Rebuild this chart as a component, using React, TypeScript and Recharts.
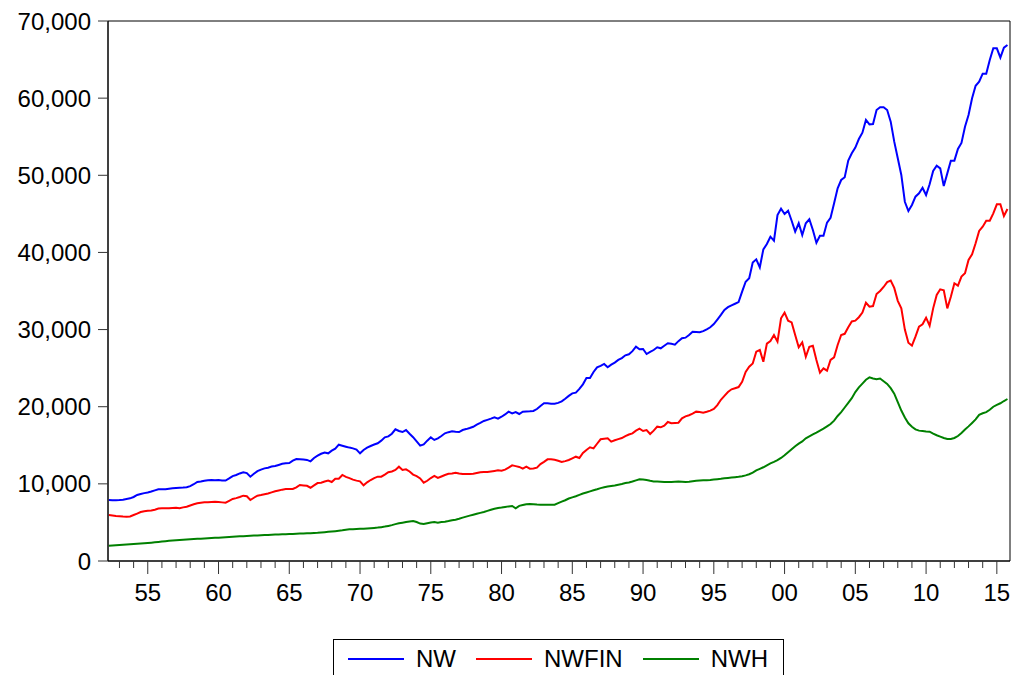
import React from "react";
import { LineChart, Line, XAxis, YAxis, ReferenceArea } from "recharts";

// quarterly, starting 1952Q2
const firstQuarter = 1952.25;

const nw = [
  7900, 7880, 7880,
  7900, 7950, 8050, 8120,
  8300, 8560, 8680, 8800,
  8870, 9000, 9150, 9290,
  9290, 9300, 9380, 9420,
  9470, 9500, 9520, 9560,
  9700, 9950, 10250, 10300,
  10400, 10480, 10500, 10480,
  10500, 10450, 10430, 10700,
  11000, 11150, 11350, 11500,
  11400, 10930, 11300, 11650,
  11850, 12010, 12100, 12250,
  12310, 12450, 12600, 12660,
  12700, 13000, 13220, 13200,
  13150, 13100, 12920, 13350,
  13650, 13900, 14050, 13960,
  14300, 14560, 15080, 14950,
  14820, 14700, 14600, 14450,
  13960, 14400, 14700, 14910,
  15100, 15260, 15600, 16030,
  16150, 16500, 17070, 16850,
  16720, 16980, 16500, 16050,
  15500, 14950, 15120, 15600,
  16030, 15690, 15900, 16200,
  16550, 16700, 16810, 16750,
  16720, 16980, 17100, 17240,
  17400, 17670, 17900, 18150,
  18300, 18450, 18620, 18450,
  18700, 19000, 19360, 19140,
  19310, 19060, 19360, 19380,
  19400, 19450, 19700, 20100,
  20440, 20440, 20400, 20400,
  20500, 20700, 21040, 21400,
  21730, 21820, 22300, 22900,
  23720, 23720, 24500, 25110,
  25300, 25540, 25110, 25450,
  25710, 26060, 26300, 26660,
  26800, 27200, 27780, 27440,
  27480, 26830, 27100, 27350,
  27700, 27570, 27900, 28220,
  28150, 28050, 28500, 28870,
  28950, 29300, 29730, 29700,
  29650, 29800, 30040, 30300,
  30720, 31300, 31900, 32540,
  32900, 33140, 33350, 33570,
  34910, 36200, 36650, 38700,
  39110, 38070, 40400, 41090,
  42040, 41520, 44850, 45670,
  44980, 45410, 44110, 42690,
  43780, 42260, 43780, 44300,
  42910, 41260, 42170, 42170,
  43870, 44500, 46370, 48310,
  49390, 49740, 51900, 52850,
  53600, 54700, 55520, 57170,
  56600, 56640, 58460, 58810,
  58810, 58460, 56950, 54360,
  52200, 50040, 46570, 45370,
  46150, 47230, 47660, 48390,
  47440, 48830, 50560, 51250,
  50900, 48610, 50250, 51900,
  51900, 53410, 54190, 56300,
  57820, 59980, 61610, 62130,
  63170, 63170, 64940, 66460,
  66460, 65250, 66540, 66890,
];

const nwfin = [
  5960, 5900, 5830,
  5800, 5760, 5740, 5780,
  5960, 6150, 6350, 6450,
  6500, 6540, 6650, 6800,
  6830, 6830, 6850, 6880,
  6910, 6830, 6950, 7040,
  7200, 7350, 7480, 7550,
  7600, 7620, 7650, 7690,
  7650, 7600, 7560, 7800,
  8050, 8150, 8300, 8470,
  8400, 7910, 8200, 8470,
  8550, 8650, 8750, 8900,
  9050, 9150, 9250, 9330,
  9330, 9330, 9550, 9850,
  9800, 9750, 9500, 9800,
  10100, 10150, 10300, 10420,
  10240, 10670, 10670, 11150,
  10900, 10750, 10550, 10420,
  10330, 9810, 10200, 10500,
  10750, 10930, 10930, 11200,
  11500, 11600, 11800, 12220,
  11800, 11880, 11600, 11200,
  11000, 10700, 10150, 10400,
  10750, 11020, 10760, 10950,
  11150, 11300, 11350, 11450,
  11350, 11280, 11280, 11280,
  11300, 11400, 11500, 11540,
  11540, 11600, 11670, 11750,
  11700, 11850, 12100, 12400,
  12300, 12190, 11970, 12220,
  11970, 12000, 12100, 12570,
  12850, 13180, 13180, 13120,
  13000, 12830, 12950, 13090,
  13300, 13520, 13350, 14000,
  14400, 14740, 14600, 15200,
  15780, 15850, 15900, 15470,
  15650, 15800, 15940, 16200,
  16400, 16550, 16900, 17150,
  16850, 16980, 16460, 16900,
  17410, 17330, 17550, 18020,
  17850, 17900, 17930, 18500,
  18750, 18900, 19100, 19360,
  19300, 19230, 19350, 19490,
  19700, 20200, 20900, 21400,
  21900, 22260, 22400, 22550,
  23240, 24500, 25190, 25600,
  27130, 27350, 25830, 28180,
  28520, 29300, 28430, 31460,
  32190, 31150, 30930, 29300,
  27700, 28350, 26480, 27780,
  27910, 26060, 24410, 24980,
  24670, 26060, 26400, 28000,
  29300, 29450, 30300, 31050,
  31150, 31600, 32200, 33480,
  32970, 33050, 34600, 35000,
  35520, 36150, 36360, 35400,
  33720, 32750, 30000, 28300,
  27910, 29080, 30370, 30680,
  31540, 30500, 32750, 34480,
  35220, 35100, 32750, 34260,
  36000, 35690, 36860, 37300,
  39020, 39760, 41180, 42780,
  43340, 44110, 44110, 45070,
  46240, 46240, 44720, 45630,
];

const nwh = [
  1990, 2010, 2040,
  2070, 2100, 2130, 2170,
  2200, 2230, 2270, 2300,
  2340, 2380, 2430, 2470,
  2520, 2570, 2610, 2650,
  2680, 2720, 2760, 2790,
  2810, 2840, 2870, 2900,
  2920, 2950, 2980, 3010,
  3030, 3060, 3090, 3120,
  3150, 3170, 3200, 3220,
  3240, 3260, 3290, 3310,
  3330, 3360, 3380, 3400,
  3420, 3440, 3460, 3480,
  3500, 3510, 3530, 3550,
  3570, 3590, 3610, 3640,
  3660, 3700, 3740, 3780,
  3830, 3870, 3920, 3980,
  4060, 4100, 4130, 4150,
  4170, 4190, 4220, 4250,
  4290, 4330, 4390, 4460,
  4550, 4650, 4780, 4880,
  4960, 5050, 5130, 5190,
  5050, 4850, 4800, 4900,
  5000, 5060, 4970, 5050,
  5100, 5180, 5280, 5360,
  5480, 5620, 5750, 5880,
  6000, 6120, 6240, 6350,
  6500, 6650, 6780, 6880,
  6930, 7000, 7080, 7130,
  6830, 7150, 7250, 7350,
  7390, 7360, 7320, 7300,
  7300, 7290, 7290, 7300,
  7500, 7700, 7880, 8100,
  8250, 8400, 8580, 8750,
  8880, 9020, 9170, 9300,
  9450, 9550, 9650, 9720,
  9780, 9880, 9980, 10100,
  10180, 10300, 10450, 10590,
  10570, 10500, 10400, 10320,
  10290, 10260, 10240, 10240,
  10250, 10270, 10290, 10270,
  10240, 10280, 10350, 10410,
  10430, 10460, 10480, 10500,
  10550, 10600, 10650, 10720,
  10770, 10820, 10870, 10910,
  10980, 11100, 11250, 11450,
  11750, 11950, 12150, 12400,
  12660, 12850, 13070, 13360,
  13700, 14100, 14500, 14880,
  15220, 15500, 15900, 16150,
  16400, 16640, 16900, 17150,
  17450, 17750, 18200, 18800,
  19300, 19900, 20500, 21100,
  21900, 22500, 23000, 23500,
  23810, 23650, 23550, 23650,
  23300, 22950, 22400, 21700,
  20600, 19500, 18600, 17850,
  17400, 17070, 16900, 16850,
  16800, 16770, 16500, 16300,
  16120, 15950, 15810, 15810,
  15950, 16200, 16600, 17050,
  17450, 17900, 18350, 18950,
  19150, 19300, 19600, 20000,
  20250, 20450, 20740, 21000,
];

const seriesNames = ["NW", "NWFIN", "NWH"];
const seriesColors = ["#0000ff", "#ff0000", "#008000"];

const yearTicks = Array.from({ length: 63 }, (_, i) => 1953 + i);
const labelYears = [1955, 1960, 1965, 1970, 1975, 1980, 1985, 1990, 1995, 2000, 2005, 2010, 2015];
const labelTexts = ["55", "60", "65", "70", "75", "80", "85", "90", "95", "00", "05", "10", "15"];
const yTicks = [0, 10000, 20000, 30000, 40000, 50000, 60000, 70000];

const data = nw.map((v, i) => ({
  t: firstQuarter + i * 0.25,
  NW: v,
  NWFIN: nwfin[i],
  NWH: nwh[i],
}));

const FONT = "'Liberation Sans', Arial, Helvetica, sans-serif";
const X_MIN = 1952.19;
const X_MAX = 2015.93;

function YearTick(props: any) {
  const { x, y, payload } = props;
  const idx = labelYears.indexOf(payload.value);
  const major = idx >= 0;
  return (
    <g>
      <line x1={x} x2={x} y1={y} y2={y + (major ? 13 : 7)} stroke="#333" strokeWidth={1} />
      {major && (
        <text x={x} y={y + 40} textAnchor="middle" fontSize={24} fill="#000" fontFamily={FONT}>
          {labelTexts[idx]}
        </text>
      )}
    </g>
  );
}

function LegendBox() {
  return (
    <div
      style={{
        position: "absolute",
        left: 333,
        top: 639,
        width: 451,
        height: 44,
        border: "1px solid #000",
        background: "#fff",
        display: "flex",
        alignItems: "center",
        paddingLeft: 14,
        paddingBottom: 4,
        boxSizing: "border-box",
        fontFamily: FONT,
        fontSize: 24,
      }}
    >
      {seriesNames.map((name, i) => (
        <div key={name} style={{ display: "flex", alignItems: "center", marginRight: 20 }}>
          <svg width={56} height={4}>
            <line x1={0} x2={56} y1={2} y2={2} stroke={seriesColors[i]} strokeWidth={2} />
          </svg>
          <span style={{ marginLeft: 12, lineHeight: "28px" }}>{name}</span>
        </div>
      ))}
    </div>
  );
}

export default function App() {
  return (
    <div
      style={{
        position: "absolute",
        left: 0,
        top: 0,
        width: 1013,
        height: 675,
        overflow: "hidden",
        background: "#fff",
      }}
    >
      <LineChart width={1013} height={675} data={data} margin={{ top: 21, right: 3, bottom: 54, left: 0 }}>
        <XAxis
          dataKey="t"
          type="number"
          domain={[X_MIN, X_MAX]}
          ticks={yearTicks}
          interval={0}
          allowDataOverflow
          height={60}
          tickSize={0}
          tickMargin={0}
          tickLine={false}
          axisLine={{ stroke: "#000", strokeWidth: 1 }}
          tick={<YearTick />}
        />
        <YAxis
          type="number"
          domain={[0, 70000]}
          ticks={yTicks}
          interval={0}
          width={108}
          tickSize={10}
          tickMargin={7}
          tickLine={{ stroke: "#333" }}
          axisLine={{ stroke: "#000", strokeWidth: 1 }}
          tick={{ fontSize: 24, fill: "#000", fontFamily: FONT }}
          tickFormatter={(v: number) => v.toLocaleString("en-US")}
        />
        <ReferenceArea x1={X_MIN} x2={X_MAX} y1={0} y2={70000} fill="none" stroke="#000" strokeWidth={1} ifOverflow="extendDomain" />
        {seriesNames.map((name, i) => (
          <Line
            key={name}
            type="linear"
            dataKey={name}
            stroke={seriesColors[i]}
            strokeWidth={2}
            dot={false}
            activeDot={false}
            isAnimationActive={false}
          />
        ))}
      </LineChart>
      <LegendBox />
    </div>
  );
}
